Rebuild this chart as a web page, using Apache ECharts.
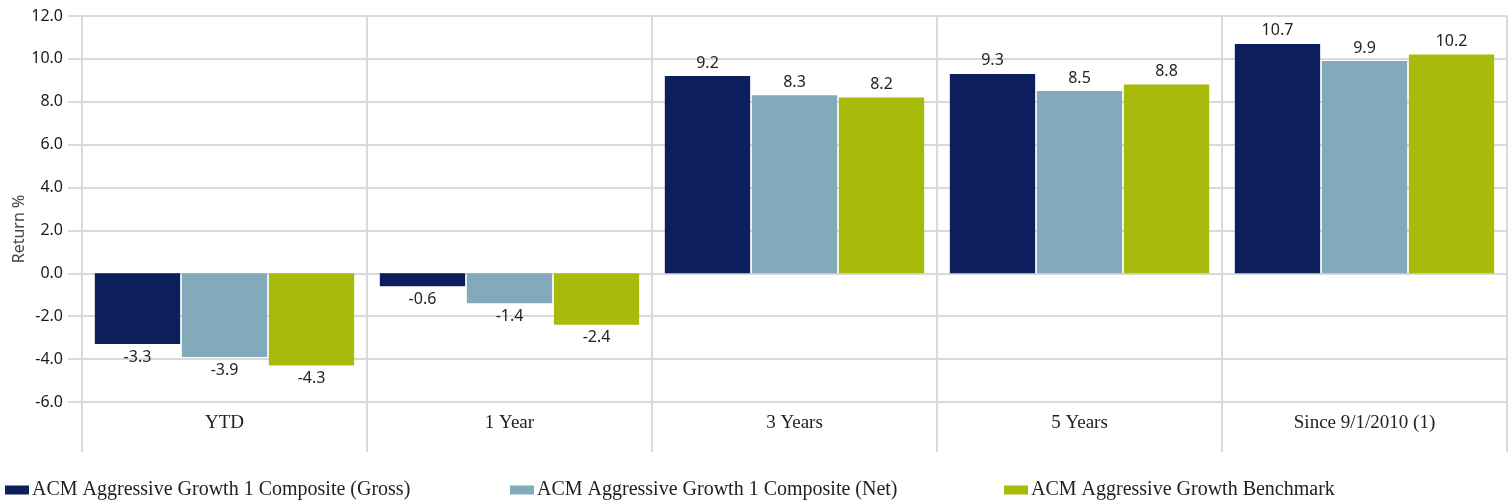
<!DOCTYPE html>
<html>
<head>
<meta charset="utf-8">
<script src="https://cdn.jsdelivr.net/npm/echarts@6/dist/echarts.min.js"></script>
<style>
  html, body { margin: 0; padding: 0; background: #fff; }
  #chart { width: 1510px; height: 504px; }
</style>
</head>
<body>
<div id="chart"></div>
<script>
// periods on the x axis
var categories = ['YTD', '1 Year', '3 Years', '5 Years', 'Since 9/1/2010 (1)'];
var seriesNames = [
    'ACM Aggressive Growth 1 Composite (Gross)',
    'ACM Aggressive Growth 1 Composite (Net)',
    'ACM Aggressive Growth Benchmark'
];
var grossValues = [-3.3, -0.6, 9.2, 9.3, 10.7];
var netValues = [-3.9, -1.4, 8.3, 8.5, 9.9];
var benchValues = [-4.3, -2.4, 8.2, 8.8, 10.2];
var yTitle = 'Return %';

var colors = ['#0c1f5c', '#82aabb', '#a9bb0a'];
var gridColor = '#dadada';
var sansFont = '"Noto Sans", sans-serif';
var serifFont = '"Liberation Serif", "DejaVu Serif", serif';

var myChart = echarts.init(document.getElementById('chart'));

function makeSeries(name, values, color) {
    return {
        name: name,
        type: 'bar',
        data: values.map(function (v) {
            return {
                value: v,
                label: { position: v < 0 ? 'bottom' : 'top' }
            };
        }),
        barGap: '2%',
        barCategoryGap: '9%',
        itemStyle: { color: color },
        label: {
            show: true,
            distance: 5,
            color: '#222',
            fontFamily: sansFont,
            fontSize: 16,
            formatter: function (p) { return p.value.toFixed(1); }
        }
    };
}

function makeLegend(name, left) {
    return {
        data: [name],
        left: left,
        bottom: -1,
        itemWidth: 24,
        itemHeight: 9,
        icon: 'rect',
        itemGap: 4,
        textStyle: { fontFamily: serifFont, fontSize: 20, color: '#222', padding: [0, 0, 0, -2] }
    };
}

var option = {
    color: colors,
    animation: false,
    grid: { left: 82, right: 3, top: 16, bottom: 102, containLabel: false, outerBoundsMode: 'none' },
    legend: [
        makeLegend(seriesNames[0], 0),
        makeLegend(seriesNames[1], 505),
        makeLegend(seriesNames[2], 999)
    ],
    // y axis title, placed by hand
    graphic: [{
        type: 'text',
        x: 19,
        y: 229,
        rotation: Math.PI / 2,
        style: {
            text: yTitle,
            fill: '#444',
            font: '16px "Noto Sans", sans-serif',
            align: 'center',
            verticalAlign: 'middle'
        }
    }],
    xAxis: {
        type: 'category',
        data: categories,
        axisLine: { onZero: false, lineStyle: { color: gridColor, width: 2 } },
        axisTick: { show: true, length: 50, lineStyle: { color: gridColor, width: 2 } },
        splitLine: { show: true, lineStyle: { color: gridColor, width: 2 } },
        axisLabel: { margin: 12, color: '#222', fontFamily: serifFont, fontSize: 19 }
    },
    yAxis: {
        type: 'value',
        min: -6,
        max: 12,
        interval: 2,
        axisLine: { show: true, lineStyle: { color: gridColor, width: 2 } },
        axisTick: { show: true, length: 14, lineStyle: { color: gridColor, width: 2 } },
        splitLine: { show: true, lineStyle: { color: gridColor, width: 2 } },
        axisLabel: {
            margin: 19,
            color: '#1a1a1a',
            fontFamily: sansFont,
            fontSize: 16,
            formatter: function (v) { return v.toFixed(1); }
        }
    },
    series: [
        makeSeries(seriesNames[0], grossValues, colors[0]),
        makeSeries(seriesNames[1], netValues, colors[1]),
        makeSeries(seriesNames[2], benchValues, colors[2])
    ]
};

myChart.setOption(option);
</script>
</body>
</html>
